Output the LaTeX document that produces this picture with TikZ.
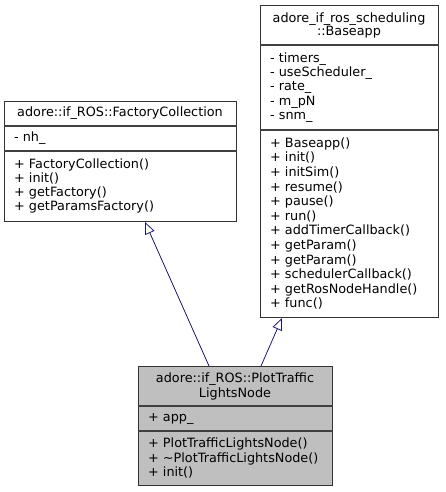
\documentclass[tikz,border=0pt]{standalone}
\usepackage{fontspec}
\setmainfont{DejaVu Sans}
\usetikzlibrary{arrows.meta}
\definecolor{edgeblue}{RGB}{25,25,112}
\definecolor{hlgray}{RGB}{191,191,191}
\begin{document}
\begin{tikzpicture}[x=1pt,y=-1pt,
  font=\fontsize{12.8}{14.5}\selectfont,
  classbox/.style={draw=black!80, line width=1pt, fill=white, inner sep=0pt, anchor=north west},
  sepline/.style={draw=black!75, line width=1.2pt},
  title/.style={align=center, inner sep=0pt},
  member/.style={align=left, anchor=west, inner sep=0pt},
  inh/.style={draw=edgeblue, line width=0.8pt, -{Triangle[open, length=12pt, width=10pt]}}]
\useasboundingbox (0,0) rectangle (445,492);

% Box 1: FactoryCollection
\node[classbox, minimum width=232pt, minimum height=120pt] (b1) at (4,101) {};
\draw[sepline] (b1.west |- 0,126) -- (b1.east |- 0,126);
\draw[sepline] (b1.west |- 0,151) -- (b1.east |- 0,151);
\node[title] (b1t) at (120,113.5) {adore::if\_ROS::FactoryCollection};
\node[member] (b1a) at (14,138.5) {- nh\_};
\node[member, font=\fontsize{12.8}{14}\selectfont] (b1m) at (14,186) {+ FactoryCollection()\\+ init()\\+ getFactory()\\+ getParamsFactory()};

% Box 2: Baseapp
\node[classbox, minimum width=178pt, minimum height=312pt] (b2) at (260,5) {};
\draw[sepline] (b2.west |- 0,45) -- (b2.east |- 0,45);
\draw[sepline] (b2.west |- 0,130) -- (b2.east |- 0,130);
\node[title, font=\fontsize{12.8}{13.5}\selectfont] (b2t) at (349,25.5) {adore\_if\_ros\_scheduling\\::Baseapp};
\node[member, font=\fontsize{12.8}{14.3}\selectfont] (b2a) at (270,87.5) {- timers\_\\- useScheduler\_\\- rate\_\\- m\_pN\\- snm\_};
\node[member, font=\fontsize{12.8}{14.6}\selectfont] (b2m) at (270,223.5) {+ Baseapp()\\+ init()\\+ initSim()\\+ resume()\\+ pause()\\+ run()\\+ addTimerCallback()\\+ getParam()\\+ getParam()\\+ schedulerCallback()\\+ getRosNodeHandle()\\+ func()};

% Box 3: PlotTrafficLightsNode
\node[classbox, fill=hlgray, minimum width=194.5pt, minimum height=119pt] (b3) at (137.5,366) {};
\draw[sepline] (b3.west |- 0,406) -- (b3.east |- 0,406);
\draw[sepline] (b3.west |- 0,431) -- (b3.east |- 0,431);
\node[title, font=\fontsize{12.8}{15}\selectfont] (b3t) at (235,386) {adore::if\_ROS::PlotTraffic\\LightsNode};
\node[member] (b3a) at (148,418.5) {+ app\_};
\node[member, font=\fontsize{12.8}{14.3}\selectfont] (b3m) at (148,458) {+ PlotTrafficLightsNode()\\+ \textasciitilde PlotTrafficLightsNode()\\+ init()};

% Inheritance connectors
\draw[inh] (b3.north -| 209,0) -- (b1.south -| 145,0);
\draw[inh] (b3.north -| 261,0) -- (b2.south -| 282,0);
\end{tikzpicture}
\end{document}
